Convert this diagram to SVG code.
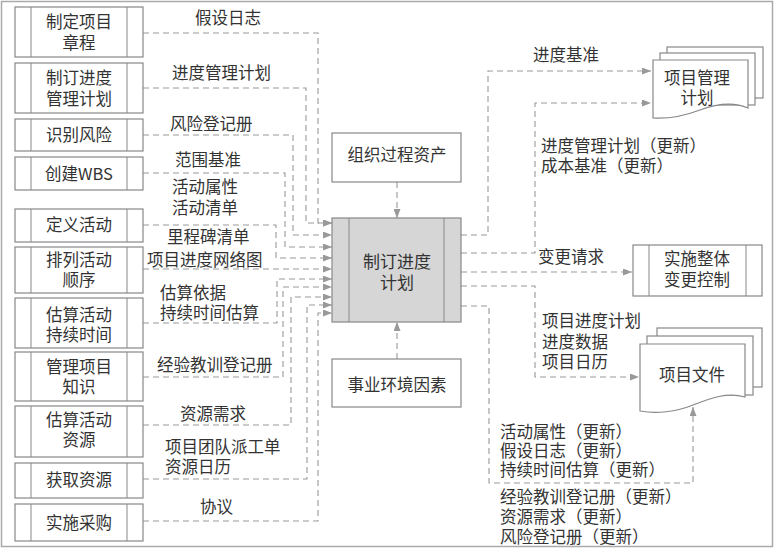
<svg xmlns="http://www.w3.org/2000/svg" width="774" height="550" viewBox="0 0 774 550">
<style>
text{font-family:"Noto Sans CJK SC","Noto Sans",sans-serif;font-size:16.5px;fill:#333}
.c{text-anchor:middle}
.box{fill:#fff;stroke:#888;stroke-width:1.2}
.ln{stroke:#888;stroke-width:1}
.dl{fill:none;stroke:#999;stroke-width:1.1;stroke-dasharray:6 4}
.ar{marker-end:url(#ah)}
</style>
<defs>
<marker id="ah" markerWidth="9" markerHeight="7" refX="9" refY="3.5" orient="auto" markerUnits="userSpaceOnUse"><path d="M0,0 L9,3.5 L0,7 Z" fill="#999"/></marker>
</defs>
<rect x="1.5" y="1.5" width="771" height="545" fill="#fff" stroke="#aaa" stroke-width="1.5"/>

<g id="connectors">
<path class="dl ar" d="M143,33 H318 V223 H332"/>
<path class="dl ar" d="M143,88 H306 V223 H332"/>
<path class="dl ar" d="M143,135 H293 V235 H332"/>
<path class="dl ar" d="M143,173 H285 V247 H332"/>
<path class="dl ar" d="M143,225 H276 V258 H332"/>
<path class="dl ar" d="M143,269 H332"/>
<path class="dl ar" d="M143,323 H277 V279 H332"/>
<path class="dl ar" d="M143,377 H283 V287 H332"/>
<path class="dl ar" d="M143,425 H291 V297 H332"/>
<path class="dl ar" d="M143,479 H307 V305 H332"/>
<path class="dl ar" d="M143,521 H318 V313 H332"/>
<path class="dl ar" d="M397,182 V218"/>
<path class="dl ar" d="M397,359 V322"/>
<path class="dl ar" d="M461,235 H488 V71 H651"/>
<path class="dl ar" d="M461,253 H535 V103 H651"/>
<path class="dl ar" d="M461,272 H632"/>
<path class="dl ar" d="M461,286 H535 V377 H639"/>
<path class="dl ar" d="M461,306 H489 V483 H693 V407"/>
<text x="195" y="24">假设日志</text>
<text x="172" y="79">进度管理计划</text>
<text x="170" y="130">风险登记册</text>
<text x="175" y="166">范围基准</text>
<text x="172" y="193">活动属性</text>
<text x="172" y="214">活动清单</text>
<text x="167" y="243">里程碑清单</text>
<text x="147" y="266">项目进度网络图</text>
<text x="160" y="299">估算依据</text>
<text x="160" y="319">持续时间估算</text>
<text x="157" y="371">经验教训登记册</text>
<text x="180" y="420">资源需求</text>
<text x="165" y="453">项目团队派工单</text>
<text x="165" y="473">资源日历</text>
<text x="200" y="513">协议</text>
<text x="533" y="61">进度基准</text>
<text x="541" y="152">进度管理计划（更新）</text>
<text x="541" y="172">成本基准（更新）</text>
<text x="538" y="263">变更请求</text>
<text x="542" y="327">项目进度计划</text>
<text x="542" y="348">进度数据</text>
<text x="542" y="368">项目日历</text>
<text x="500" y="438">活动属性（更新）</text>
<text x="500" y="457">假设日志（更新）</text>
<text x="500" y="476">持续时间估算（更新）</text>
<text x="500" y="503">经验教训登记册（更新）</text>
<text x="500" y="523">资源需求（更新）</text>
<text x="500" y="543">风险登记册（更新）</text>
</g>

<g id="n1"><rect class="box" x="15" y="7" width="128" height="50"/><line class="ln" x1="31" y1="7" x2="31" y2="57"/><line class="ln" x1="127" y1="7" x2="127" y2="57"/><text class="c" x="79" y="28">制定项目</text><text class="c" x="79" y="49">章程</text></g>
<g id="n2"><rect class="box" x="15" y="63" width="128" height="50"/><line class="ln" x1="31" y1="63" x2="31" y2="113"/><line class="ln" x1="127" y1="63" x2="127" y2="113"/><text class="c" x="79" y="84">制订进度</text><text class="c" x="79" y="105">管理计划</text></g>
<g id="n3"><rect class="box" x="15" y="119" width="128" height="32"/><line class="ln" x1="31" y1="119" x2="31" y2="151"/><line class="ln" x1="127" y1="119" x2="127" y2="151"/><text class="c" x="79" y="141">识别风险</text></g>
<g id="n4"><rect class="box" x="15" y="157" width="128" height="33"/><line class="ln" x1="31" y1="157" x2="31" y2="190"/><line class="ln" x1="127" y1="157" x2="127" y2="190"/><text class="c" x="79" y="180">创建WBS</text></g>
<g id="n5"><rect class="box" x="15" y="209" width="128" height="33"/><line class="ln" x1="31" y1="209" x2="31" y2="242"/><line class="ln" x1="127" y1="209" x2="127" y2="242"/><text class="c" x="79" y="231">定义活动</text></g>
<g id="n6"><rect class="box" x="15" y="247" width="128" height="46"/><line class="ln" x1="31" y1="247" x2="31" y2="293"/><line class="ln" x1="127" y1="247" x2="127" y2="293"/><text class="c" x="79" y="266">排列活动</text><text class="c" x="79" y="286">顺序</text></g>
<g id="n7"><rect class="box" x="15" y="298" width="128" height="50"/><line class="ln" x1="31" y1="298" x2="31" y2="348"/><line class="ln" x1="127" y1="298" x2="127" y2="348"/><text class="c" x="79" y="321">估算活动</text><text class="c" x="79" y="341">持续时间</text></g>
<g id="n8"><rect class="box" x="15" y="352" width="128" height="49"/><line class="ln" x1="31" y1="352" x2="31" y2="401"/><line class="ln" x1="127" y1="352" x2="127" y2="401"/><text class="c" x="79" y="373">管理项目</text><text class="c" x="79" y="393">知识</text></g>
<g id="n9"><rect class="box" x="15" y="406" width="128" height="51"/><line class="ln" x1="31" y1="406" x2="31" y2="457"/><line class="ln" x1="127" y1="406" x2="127" y2="457"/><text class="c" x="79" y="426">估算活动</text><text class="c" x="79" y="446">资源</text></g>
<g id="n10"><rect class="box" x="15" y="463" width="128" height="35"/><line class="ln" x1="31" y1="463" x2="31" y2="498"/><line class="ln" x1="127" y1="463" x2="127" y2="498"/><text class="c" x="79" y="486">获取资源</text></g>
<g id="n11"><rect class="box" x="15" y="504" width="128" height="37"/><line class="ln" x1="31" y1="504" x2="31" y2="541"/><line class="ln" x1="127" y1="504" x2="127" y2="541"/><text class="c" x="79" y="529">实施采购</text></g>

<g id="opa"><rect class="box" x="332" y="133" width="129" height="49"/><text class="c" x="397" y="161">组织过程资产</text></g>
<g id="eef"><rect class="box" x="332" y="359" width="129" height="48"/><text class="c" x="397" y="391">事业环境因素</text></g>
<g id="center"><rect x="332" y="218" width="129" height="104" fill="#d6d6d6" stroke="#888" stroke-width="1.2"/><line class="ln" x1="349" y1="218" x2="349" y2="322"/><line class="ln" x1="444" y1="218" x2="444" y2="322"/><text class="c" x="397" y="268" style="font-size:17px">制订进度</text><text class="c" x="397" y="289" style="font-size:17px">计划</text></g>

<g id="pmp">
<rect class="box" x="667" y="47" width="96" height="51"/>
<rect class="box" x="660" y="53" width="95" height="52"/>
<path class="box" d="M653,60 H748 V108 C732,101 716,104 700,110 C684,116 668,119 653,118 Z"/>
<text class="c" x="697" y="84">项目管理</text><text class="c" x="697" y="104">计划</text>
</g>
<g id="icc"><rect class="box" x="633" y="245" width="129" height="51"/><line class="ln" x1="649" y1="245" x2="649" y2="296"/><line class="ln" x1="746" y1="245" x2="746" y2="296"/><text class="c" x="697" y="265">实施整体</text><text class="c" x="697" y="286">变更控制</text></g>
<g id="docs">
<rect class="box" x="657" y="328" width="105" height="59"/>
<rect class="box" x="647" y="336" width="106" height="59"/>
<path class="box" d="M640,344 H745 V397 C727,392 711,398 693,405 C676,412 656,414 640,411 Z"/>
<text class="c" x="692" y="381">项目文件</text>
</g>
</svg>
